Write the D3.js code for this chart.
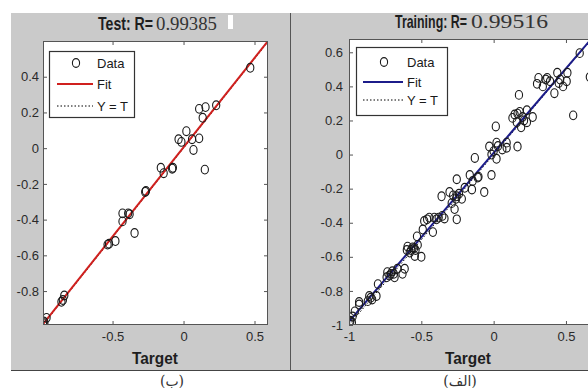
<!DOCTYPE html>
<html><head><meta charset="utf-8">
<script src="https://cdn.jsdelivr.net/npm/d3@7"></script>
<style>html,body{margin:0;padding:0;background:#fff;overflow:hidden}</style>
</head><body><svg id="c" width="588" height="388"></svg>
<script>
// ---------- data ----------
const testTargets = [0.47,0.23,0.11,0.155,0.135,0.02,-0.035,-0.015,0.06,0.11,0.07,0.15,-0.16,-0.14,-0.08,-0.075,-0.27,-0.265,-0.43,-0.39,-0.43,-0.345,-0.535,-0.48,-0.525,-0.85,-0.84,-0.86,-0.985,-0.99,-0.98,-0.965,-0.38];
const testOutputs = [0.45,0.24,0.22,0.23,0.17,0.095,0.05,0.035,0.05,0.055,-0.01,-0.12,-0.11,-0.14,-0.115,-0.11,-0.245,-0.24,-0.365,-0.365,-0.41,-0.475,-0.54,-0.52,-0.535,-0.85,-0.825,-0.86,-0.97,-0.98,-0.975,-0.95,-0.37];
const trainTargets = [0.595,0.665,0.55,0.175,0.015,0.31,0.37,0.44,0.51,0.30,0.34,0.48,0.42,0.505,0.39,0.46,0.36,0.45,0.145,0.18,0.23,0.27,0.16,0.23,0.19,0.13,0.2,0.165,0.21,0.165,0.09,-0.03,0.02,0.06,-0.015,0.09,0.0,0.03,-0.13,0.02,-0.165,-0.105,-0.015,-0.255,-0.065,-0.2,-0.15,-0.145,-0.11,-0.36,-0.305,-0.255,-0.22,-0.29,-0.27,-0.28,-0.24,-0.26,-0.445,-0.395,-0.355,-0.255,-0.48,-0.46,-0.41,-0.34,-0.42,-0.49,-0.53,-0.38,-0.595,-0.56,-0.525,-0.58,-0.5,-0.545,-0.6,-0.55,-0.57,-0.54,-0.735,-0.70,-0.665,-0.63,-0.74,-0.685,-0.615,-0.71,-0.69,-0.72,-0.80,-0.86,-0.84,-0.87,-0.81,-0.85,-0.93,-0.96,-0.995,-0.99,-0.98,-0.975,-0.93];
const trainOutputs = [0.595,0.455,0.23,0.35,0.165,0.45,0.45,0.48,0.48,0.415,0.40,0.40,0.36,0.43,0.43,0.44,0.44,0.42,0.235,0.25,0.26,0.22,0.19,0.19,0.16,0.215,0.22,0.24,0.2,0.047,0.04,0.047,0.07,0.03,0.0,0.07,0.02,0.05,-0.02,-0.025,-0.12,-0.13,-0.12,-0.145,-0.22,-0.195,-0.205,-0.155,-0.135,-0.245,-0.22,-0.245,-0.26,-0.285,-0.32,-0.24,-0.23,-0.26,-0.37,-0.38,-0.36,-0.38,-0.39,-0.38,-0.37,-0.375,-0.455,-0.44,-0.48,-0.37,-0.54,-0.545,-0.53,-0.575,-0.6,-0.595,-0.56,-0.55,-0.56,-0.56,-0.69,-0.685,-0.67,-0.70,-0.72,-0.72,-0.67,-0.70,-0.70,-0.71,-0.76,-0.83,-0.85,-0.86,-0.83,-0.84,-0.865,-0.92,-0.98,-0.975,-0.985,-0.95,-0.88];
const testXTicks = [-0.5, 0, 0.5];
const testYTicks = [-0.8, -0.6, -0.4, -0.2, 0, 0.2, 0.4];
const trainXTicks = [-1, -0.5, 0, 0.5];
const trainYTicks = [-1, -0.8, -0.6, -0.4, -0.2, 0, 0.2, 0.4, 0.6];
const testLimits = [-0.99, 0.595];
const trainLimits = [-1, 0.68];
const titleLabels = ["Test: R=", "Training: R="];
const rValues = ["0.99385", "0.99516"];
const fitSlopes = [1.0, 0.99];
const fitIntercepts = [0.005, 0.01];
const legendLabels = ["Data", "Fit", "Y = T"];
const axisLabel = "Target";
const captions = ["(ب)", "(الف)"];

// ---------- drawing ----------
const svg = d3.select("#c");
svg.append("rect").attr("width",588).attr("height",388).attr("fill","#fff");
svg.append("rect").attr("x",11).attr("y",13).attr("width",577).attr("height",357).attr("fill","#cacaca");
svg.append("line").attr("x1",290.5).attr("x2",290.5).attr("y1",13).attr("y2",370).attr("stroke","#555").attr("stroke-width",1);
svg.append("line").attr("x1",11).attr("x2",588).attr("y1",370.5).attr("y2",370.5).attr("stroke","#444").attr("stroke-width",1);

const SANS = "'Liberation Sans', Arial, sans-serif";
const SERIF = "'Liberation Serif', 'Times New Roman', serif";
const fmt = d => d === 0 ? "0" : String(d);

// text squeezed horizontally to a given width (reference is anisotropically scaled)
function squeezed(str, x, y, w, font, size, weight, fill) {
  const t = svg.append("text").attr("x",0).attr("y",0).text(str)
    .attr("font-family",font).attr("font-size",size).attr("font-weight",weight).attr("fill",fill);
  const nat = t.node().getComputedTextLength();
  t.attr("transform",`translate(${x},${y}) scale(${w/nat},1)`);
  return t;
}

function drawPanel(o, i) {
  const tx = i === 0 ? testTargets : trainTargets;
  const ty = i === 0 ? testOutputs : trainOutputs;
  const lim = i === 0 ? testLimits : trainLimits;
  const x = d3.scaleLinear().domain(lim).range([o.left, o.right]);
  const y = d3.scaleLinear().domain(o.yDom).range([o.bottom, o.top]);
  const g = svg.append("g");
  g.append("rect").attr("x",o.left).attr("y",o.top).attr("width",o.right-o.left).attr("height",o.bottom-o.top).attr("fill","#fff");
  const cid = "clip" + i;
  g.append("clipPath").attr("id",cid).append("rect").attr("x",o.left).attr("y",o.top).attr("width",o.right-o.left).attr("height",o.bottom-o.top);
  const pg = g.append("g").attr("clip-path",`url(#${cid})`);
  pg.append("line").attr("x1",x(lim[0])).attr("y1",y(lim[0])).attr("x2",x(lim[1])).attr("y2",y(lim[1]))
    .attr("stroke","#000").attr("stroke-width",1).attr("stroke-dasharray","1.5,2");
  const fy = v => fitSlopes[i]*v + fitIntercepts[i];
  pg.append("line").attr("x1",x(lim[0])).attr("y1",y(fy(lim[0]))).attr("x2",x(lim[1])).attr("y2",y(fy(lim[1])))
    .attr("stroke",o.fitColor).attr("stroke-width",2);
  pg.selectAll("ellipse.pt").data(tx.map((t,k)=>[t,ty[k]])).join("ellipse").attr("class","pt")
    .attr("cx",d=>x(d[0])).attr("cy",d=>y(d[1])).attr("rx",3.6).attr("ry",4.4)
    .attr("fill","none").attr("stroke","#1a1a1a").attr("stroke-width",1.1);

  const style = a => a.call(s=>s.select(".domain").remove())
      .call(s=>s.selectAll("line").attr("stroke","#555"))
      .call(s=>s.selectAll("text").attr("font-family",SANS).attr("font-size",13).attr("fill","#2a2a2a"));
  g.append("g").attr("transform",`translate(0,${o.bottom})`)
    .call(d3.axisBottom(x).tickValues(o.xTicks).tickFormat(fmt).tickSizeInner(-4).tickSizeOuter(0).tickPadding(o.xPad)).call(style);
  g.append("g").attr("transform",`translate(0,${o.top})`)
    .call(d3.axisTop(x).tickValues(o.xTicks).tickFormat("").tickSizeInner(-4).tickSizeOuter(0)).call(style);
  g.append("g").attr("transform",`translate(${o.left},0)`)
    .call(d3.axisLeft(y).tickValues(o.yTicks).tickFormat(fmt).tickSizeInner(-4).tickSizeOuter(0).tickPadding(o.yPad)).call(style);
  g.append("g").attr("transform",`translate(${o.right},0)`)
    .call(d3.axisRight(y).tickValues(o.yTicks).tickFormat("").tickSizeInner(-4).tickSizeOuter(0)).call(style);
  g.append("rect").attr("x",o.left+0.5).attr("y",o.top+0.5).attr("width",o.right-o.left-1).attr("height",o.bottom-o.top-1)
    .attr("fill","none").attr("stroke","#555").attr("stroke-width",1);

  const L = o.legend;
  const lg = g.append("g");
  lg.append("rect").attr("x",L.x+0.5).attr("y",L.y+0.5).attr("width",L.w).attr("height",L.h)
    .attr("fill","#fff").attr("stroke","#333").attr("stroke-width",1.2);
  lg.append("ellipse").attr("cx",L.cx).attr("cy",L.rows[0]).attr("rx",3.6).attr("ry",4.4)
    .attr("fill","none").attr("stroke","#1a1a1a").attr("stroke-width",1.1);
  lg.append("line").attr("x1",L.lx1).attr("x2",L.lx2).attr("y1",L.rows[1]).attr("y2",L.rows[1])
    .attr("stroke",o.fitColor).attr("stroke-width",2);
  lg.append("line").attr("x1",L.lx1).attr("x2",L.lx2).attr("y1",L.rows[2]).attr("y2",L.rows[2])
    .attr("stroke","#000").attr("stroke-width",1).attr("stroke-dasharray","1.5,2");
  legendLabels.forEach((t,k)=>{
    lg.append("text").attr("x",L.tx).attr("y",L.rows[k]+4.5).text(t)
      .attr("font-family",SANS).attr("font-size",13).attr("fill","#1a1a1a");
  });

  squeezed(titleLabels[i], o.title.x1, o.title.y, o.title.w1, SANS, 17.5, "bold", "#1e1e1e");
  squeezed(rValues[i], o.title.x2, o.title.y, o.title.w2, SERIF, 19, "normal", "#333");
  squeezed(axisLabel, o.xlab.x - o.xlab.w/2, o.xlab.y, o.xlab.w, SANS, 17, "bold", "#1e1e1e");

  svg.append("text").attr("x",o.cap.x).attr("y",o.cap.y).attr("text-anchor","middle").text(captions[i])
    .attr("font-family","'DejaVu Serif','DejaVu Sans','Noto Sans',serif").attr("font-size",14).attr("fill","#333");
}

drawPanel({
  left:43, right:268, top:41, bottom:325, yDom:[-0.99,0.60],
  xTicks:testXTicks, yTicks:testYTicks, xPad:7, yPad:4, fitColor:"#d0201e",
  legend:{x:49, y:51, w:85, h:66, cx:76, lx1:57, lx2:93, tx:97, rows:[63,84,106]},
  title:{x1:98, w1:55, x2:156, w2:61, y:30},
  xlab:{x:155, y:364, w:46},
  cap:{x:172, y:386}
}, 0);
svg.append("rect").attr("x",228).attr("y",15).attr("width",5).attr("height",14).attr("fill","#fff");

drawPanel({
  left:349, right:592, top:39, bottom:325, yDom:[-1,0.678],
  xTicks:trainXTicks, yTicks:trainYTicks, xPad:7, yPad:6, fitColor:"#1c1c8a",
  legend:{x:356, y:47, w:91, h:68, cx:384, lx1:363, lx2:403, tx:407, rows:[62,82,100]},
  title:{x1:395, w1:72, x2:471, w2:77, y:28},
  xlab:{x:468, y:364, w:46},
  cap:{x:460, y:386}
}, 1);
</script>
</body></html>
